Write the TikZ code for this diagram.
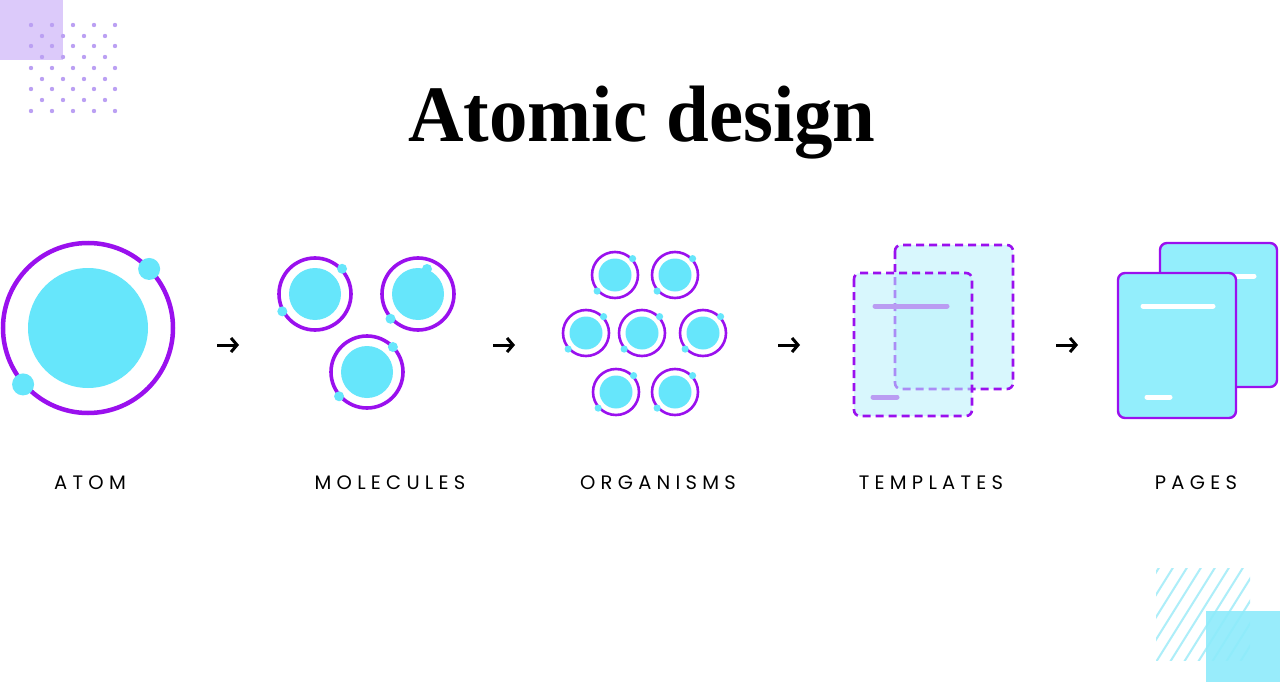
\documentclass[tikz,border=0pt]{standalone}
\usepackage{fontspec}
\usetikzlibrary{arrows.meta}
\newfontfamily\titlefont{Liberation Serif}
\newfontfamily\labfont[LetterSpace=27]{Poppins}
\definecolor{cy}{HTML}{66E6FB}
\definecolor{purp}{HTML}{9A10EE}
\definecolor{pagefill}{HTML}{93EEFC}
\definecolor{tplfill}{HTML}{B8F2FC}
\definecolor{tplbar}{HTML}{BA9CF2}
\definecolor{lilac}{HTML}{DCCAFA}
\definecolor{dotc}{HTML}{BBA0F3}
\definecolor{hatchc}{HTML}{ADEEF9}
\definecolor{sqc}{HTML}{8DEBFB}
\newcommand\orb[5]{%
  \fill[cy] (#1,#2) circle[radius=#4pt];
  \draw[purp,line width=#5] (#1,#2) circle[radius=#3pt];}
\newcommand\orbdot[5]{%
  \fill[cy] ([shift={(#3:#4pt)}]#1,#2) circle[radius=#5pt];}
\begin{document}
\begin{tikzpicture}[x=1pt,y=-1pt,
  lab/.style={font=\labfont\fontsize{19.5}{21}\selectfont, text=black, inner sep=0pt, anchor=center},
  arr/.style={line width=3pt, draw=black, -{Straight Barb[length=6pt,width=14pt]}},
  tpl/.style={draw=purp, line width=2.6pt, dash pattern=on 8pt off 5pt, rounded corners=6pt, fill=tplfill, fill opacity=0.55, draw opacity=1},
  page/.style={draw=purp, line width=2.4pt, rounded corners=7pt, fill=pagefill},
  bar/.style={line width=5pt, line cap=round}]
\useasboundingbox (0,0) rectangle (1280,682);
\fill[white] (0,0) rectangle (1280,682);
% top-left decoration
\fill[lilac] (0,0) rectangle (63,60);
\foreach \y in {25,46,68,89,111}{\foreach \x in {31,52,73,94,115}{\fill[dotc] (\x,\y) circle[radius=2.2pt];}}
\foreach \y in {36,57,79,100}{\foreach \x in {42,63,84,105}{\fill[dotc] (\x,\y) circle[radius=2.2pt];}}
% bottom-right decoration
\begin{scope}
\clip (1156,568) rectangle (1250,660);
\foreach \i in {-6,...,8}{\draw[hatchc,line width=2pt] (1156+\i*14,662) -- (1216+\i*14,566);}
\end{scope}
\fill[sqc,opacity=0.9] (1206,611) rectangle (1280,682);
% title
\node[font=\titlefont\bfseries\fontsize{80}{90}\selectfont, anchor=base, inner sep=0pt] (title) at (642,142) {\scalebox{0.96}[1]{Atomic design}};
% atom
\orb{88}{328}{85}{60}{4.5pt}
\orbdot{88}{328}{44}{85}{11}
\orbdot{88}{328}{221}{86}{11}
% molecules
\orb{315}{294}{36}{26}{3.6pt}
\orbdot{315}{294}{43}{37}{5}
\orbdot{315}{294}{208}{37}{5}
\orb{418}{294}{36}{26}{3.6pt}
\fill[cy] (427,269) circle[radius=5pt];
\orbdot{418}{294}{222}{37}{5}
\orb{367}{372}{36}{26}{3.6pt}
\orbdot{367}{372}{44}{36}{5}
\orbdot{367}{372}{221}{37}{5}
% organisms
\foreach \cx/\cy in {615/275,675/275,586/333,642/333,703/333,616/392,675/392}{
  \orb{\cx}{\cy}{23}{16.5}{2.6pt}
  \orbdot{\cx}{\cy}{43}{24}{3.6}
  \orbdot{\cx}{\cy}{222}{24}{3.6}
}
% templates
\draw[tpl] (895,245) rectangle (1013,389);
\draw[tpl] (854,273) rectangle (972,416);
\draw[bar,tplbar] (875,306) -- (947,306);
\draw[bar,tplbar] (873,397) -- (897,397);
% pages
\draw[page] (1160,243) rectangle (1277,387);
\draw[bar,white] (1190,276) -- (1254,276);
\draw[page] (1118,273) rectangle (1236,418);
\draw[bar,white] (1143,306) -- (1213,306);
\draw[bar,white] (1147,397) -- (1170,397);
% arrows
\coordinate (a1s) at (217,345); \coordinate (a1e) at (239,345);
\coordinate (a2s) at (493,345); \coordinate (a2e) at (515,345);
\coordinate (a3s) at (778,345); \coordinate (a3e) at (800,345);
\coordinate (a4s) at (1056,345); \coordinate (a4e) at (1078,345);
\draw[arr] (a1s) -- (a1e);
\draw[arr] (a2s) -- (a2e);
\draw[arr] (a3s) -- (a3e);
\draw[arr] (a4s) -- (a4e);
% labels
\node[lab] (latom) at (90,483) {ATOM};
\node[lab] (lmol) at (390,483) {MOLECULES};
\node[lab] (lorg) at (658,483) {ORGANISMS};
\node[lab] (ltpl) at (931,483) {TEMPLATES};
\node[lab] (lpag) at (1196,483) {PAGES};
\end{tikzpicture}
\end{document}
